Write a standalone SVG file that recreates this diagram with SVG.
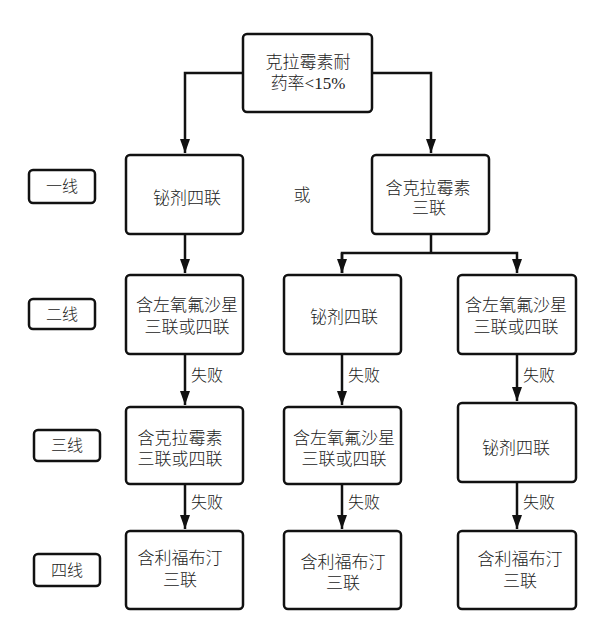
<svg xmlns="http://www.w3.org/2000/svg" width="600" height="635" viewBox="0 0 600 635">
<style>
.box{fill:#fff;stroke:#111;stroke-width:2.5}
.t{font-family:"Liberation Serif","Noto Sans CJK SC",serif;font-size:17px;fill:#222;text-anchor:middle;font-weight:300}
.lab{font-family:"Noto Sans CJK SC",sans-serif;font-size:16px;fill:#222;text-anchor:middle;font-weight:300}
.c{fill:none;stroke:#111;stroke-width:2.5}
</style>
<defs>
<marker id="ah" viewBox="0 0 14 10" refX="14" refY="5" markerWidth="14" markerHeight="10" markerUnits="userSpaceOnUse" orient="auto">
<path d="M0,0 L14,5 L0,10 Z" fill="#111"/>
</marker>
</defs>
<rect width="600" height="635" fill="#fff"/>
<g id="connectors">
<path class="c" d="M243,73 H185 V153" marker-end="url(#ah)"/>
<path class="c" d="M372,73 H431 V153" marker-end="url(#ah)"/>
<path class="c" d="M185,234 V273" marker-end="url(#ah)"/>
<path class="c" d="M431,234 V253"/>
<path class="c" d="M342,273 V253 H517 V273" marker-end="url(#ah)"/>
<path class="c" d="M342,253 V273" marker-end="url(#ah)"/>
<path class="c" d="M185,354 V405" marker-end="url(#ah)"/>
<path class="c" d="M342,354 V405" marker-end="url(#ah)"/>
<path class="c" d="M517,354 V401" marker-end="url(#ah)"/>
<path class="c" d="M185,484 V529" marker-end="url(#ah)"/>
<path class="c" d="M342,484 V529" marker-end="url(#ah)"/>
<path class="c" d="M517,482 V529" marker-end="url(#ah)"/>
<text class="lab" x="207" y="381">失败</text>
<text class="lab" x="364" y="381">失败</text>
<text class="lab" x="539" y="381">失败</text>
<text class="lab" x="207" y="508">失败</text>
<text class="lab" x="364" y="508">失败</text>
<text class="lab" x="539" y="508">失败</text>
</g>
<g id="top"><rect class="box" x="243" y="34" width="129" height="78" rx="4"/>
<text class="t" x="308" y="68">克拉霉素耐</text><text class="t" x="308" y="89">药率&lt;15%</text></g>
<g id="l1"><rect class="box" x="126" y="155" width="117" height="79" rx="4"/><text class="t" x="187" y="204">铋剂四联</text></g>
<g id="or"><text class="t" x="302" y="201">或</text></g>
<g id="r1"><rect class="box" x="372" y="155" width="117" height="79" rx="4"/><text class="t" x="428" y="194">含克拉霉素</text><text class="t" x="429" y="214">三联</text></g>
<g id="lab1"><rect class="box" x="29" y="170" width="66" height="33" rx="4"/><text class="lab" x="62" y="192">一线</text></g>
<g id="l2"><rect class="box" x="126" y="275" width="117" height="79" rx="4"/><text class="t" x="187" y="311">含左氧氟沙星</text><text class="t" x="187" y="333">三联或四联</text></g>
<g id="m2"><rect class="box" x="284" y="275" width="117" height="79" rx="4"/><text class="t" x="344" y="323">铋剂四联</text></g>
<g id="r2"><rect class="box" x="458" y="275" width="118" height="79" rx="4"/><text class="t" x="516" y="311">含左氧氟沙星</text><text class="t" x="516" y="333">三联或四联</text></g>
<g id="lab2"><rect class="box" x="29" y="299" width="66" height="30" rx="4"/><text class="lab" x="62" y="320">二线</text></g>
<g id="l3"><rect class="box" x="126" y="407" width="117" height="77" rx="4"/><text class="t" x="180" y="444">含克拉霉素</text><text class="t" x="180" y="465">三联或四联</text></g>
<g id="m3"><rect class="box" x="284" y="407" width="117" height="77" rx="4"/><text class="t" x="344" y="444">含左氧氟沙星</text><text class="t" x="344" y="465">三联或四联</text></g>
<g id="r3"><rect class="box" x="458" y="403" width="118" height="79" rx="4"/><text class="t" x="516" y="454">铋剂四联</text></g>
<g id="lab3"><rect class="box" x="34" y="430" width="66" height="31" rx="4"/><text class="lab" x="67" y="451">三线</text></g>
<g id="l4"><rect class="box" x="126" y="531" width="117" height="78" rx="4"/><text class="t" x="180" y="564">含利福布汀</text><text class="t" x="180" y="586">三联</text></g>
<g id="m4"><rect class="box" x="284" y="531" width="117" height="78" rx="4"/><text class="t" x="343" y="568">含利福布汀</text><text class="t" x="343" y="589">三联</text></g>
<g id="r4"><rect class="box" x="458" y="531" width="118" height="78" rx="4"/><text class="t" x="520" y="565">含利福布汀</text><text class="t" x="520" y="587">三联</text></g>
<g id="lab4"><rect class="box" x="34" y="554" width="66" height="32" rx="4"/><text class="lab" x="67" y="576">四线</text></g>
</svg>
